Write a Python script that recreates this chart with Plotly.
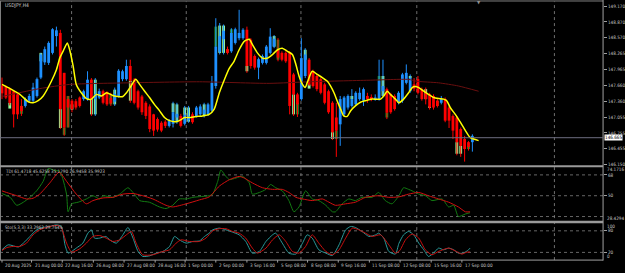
import plotly.graph_objects as go

W, H = 625, 273

symbol_title = "USDJPY,H4"
tdi_title = "TDI 61.4718 45.6258 35.1790 26.9458 35.9923"
sto_title = "Sto(5,3,3) 33.2962 29.7645"

# Heiken-Ashi style bodies (bar index = position in list)
ha_open = [147.66,147.64,147.60,147.55,147.49,147.27,147.27,147.37,147.37,147.46,
           147.81,148.10,148.09,148.28,148.60,148.66,147.90,147.40,147.37,147.36,
           147.43,147.40,147.40,147.77,147.40,147.43,147.55,147.53,147.42,147.35,
           147.46,147.78,147.78,148.03,147.77,147.55,147.45,147.33,147.26,147.11,
           147.02,146.95,146.97,146.89,146.93,147.05,147.08,146.93,147.00,147.11,
           147.08,147.11,147.12,147.11,147.18,147.65,148.30,148.54,148.35,148.31,
           148.47,148.56,148.56,148.72,148.53,148.22,148.00,148.09,148.09,148.28,
           148.40,148.34,148.28,148.28,148.28,147.87,147.49,147.40,147.84,148.15,
           147.93,147.84,147.78,147.68,147.55,147.33,147.05,146.92,147.11,147.24,
           147.27,147.30,147.40,147.37,147.46,147.44,147.40,147.40,147.55,147.59,
           147.49,147.46,147.33,147.37,147.71,147.55,147.68,147.78,147.59,147.52,
           147.49,147.46,147.37,147.33,147.40,147.24,147.08,147.05,146.83,146.64,
           146.58,146.58]
ha_close = [147.51,147.43,147.33,147.11,147.11,147.17,147.40,147.46,147.62,147.78,
            148.25,148.35,148.47,148.73,148.71,147.21,146.86,147.24,147.21,147.24,
            147.27,147.55,147.77,147.40,147.50,147.55,147.33,147.30,147.32,147.50,
            147.94,147.93,148.03,147.75,147.33,147.24,147.15,147.08,146.83,146.80,
            146.82,146.80,146.89,146.99,147.15,147.12,146.89,147.10,147.08,146.96,
            147.24,147.26,147.20,147.30,147.71,148.40,148.60,148.70,148.28,148.66,
            148.73,148.66,148.72,148.03,148.03,148.00,148.16,148.22,148.40,148.59,
            148.55,148.19,148.15,148.12,147.27,147.49,147.30,148.18,148.25,147.68,
            147.65,147.59,147.52,147.33,147.15,146.77,146.80,147.40,147.43,147.46,
            147.40,147.52,147.52,147.59,147.40,147.40,147.43,147.75,147.65,147.14,
            147.15,147.21,147.52,147.87,147.90,147.80,147.60,147.52,147.40,147.40,
            147.24,147.24,147.27,147.40,146.99,146.99,146.80,146.58,146.51,146.45,
            146.49,146.70]
bar_high = [147.81,147.66,147.62,147.57,147.50,147.40,147.43,147.50,147.71,147.81,
            148.28,148.40,148.50,148.75,148.78,148.72,147.90,147.46,147.40,147.40,
            147.45,147.58,147.93,147.80,147.80,147.60,147.58,147.55,147.52,147.62,
            147.97,147.96,148.15,148.15,147.80,147.58,147.48,147.36,147.30,147.12,
            147.05,146.98,147.00,147.02,147.35,147.33,147.12,147.27,147.27,147.15,
            147.27,147.30,147.33,147.33,147.84,148.94,148.85,148.82,148.40,148.75,
            148.76,149.10,148.75,148.78,148.56,148.25,148.19,148.25,148.43,148.75,
            148.62,148.56,148.31,148.31,148.31,147.90,147.52,148.56,148.37,148.18,
            147.96,147.87,147.81,147.71,147.58,147.36,147.33,147.46,147.46,147.49,
            147.59,147.55,147.62,147.62,147.52,147.49,147.49,148.15,148.15,147.62,
            147.52,147.49,147.55,147.90,148.06,147.87,147.80,147.84,147.62,147.62,
            147.52,147.49,147.40,147.46,147.43,147.27,147.11,147.08,146.86,146.70,
            146.60,146.73]
bar_low = [147.40,147.40,147.28,146.86,147.02,147.08,147.24,147.33,147.33,147.43,
           147.78,148.05,148.05,148.25,148.40,146.83,146.70,146.86,147.15,147.20,
           147.24,147.37,147.37,147.08,147.08,147.40,147.30,147.27,147.27,147.27,
           147.43,147.74,147.75,147.33,147.30,147.20,147.10,147.02,146.77,146.70,
           146.78,146.77,146.85,146.86,146.86,146.93,146.86,146.90,146.95,146.93,
           147.05,147.08,147.05,147.08,147.15,147.60,148.25,148.25,148.25,148.28,
           148.44,148.52,148.53,147.90,147.98,147.96,147.78,148.06,148.06,148.25,
           148.37,148.12,148.12,148.09,147.11,147.08,147.06,147.37,147.80,147.65,
           147.62,147.55,147.49,147.30,147.12,146.62,146.30,146.51,147.08,147.20,
           147.24,147.27,147.37,147.27,147.33,147.36,147.37,147.37,147.43,147.02,
           147.12,147.18,147.30,147.33,147.68,147.52,147.55,147.49,147.37,147.30,
           147.20,147.20,147.24,147.30,146.96,146.85,146.64,146.33,146.30,146.21,
           146.42,146.40]

# underlying candle bodies visible around the HA bodies: (bar, low, high, tone)
green_bodies = [(2,147.22,147.33,"L"),(5,147.12,147.27,"D"),(10,148.12,148.28,"L"),
                (15,146.85,147.21,"L"),(16,146.72,146.86,"D"),(17,146.86,147.46,"D"),
                (18,147.20,147.30,"L"),(23,147.11,147.40,"L"),(24,147.11,147.77,"L"),
                (28,147.30,147.49,"D"),(29,147.30,147.58,"L"),(33,147.37,147.75,"L"),
                (44,147.15,147.32,"L"),(45,146.96,147.30,"L"),(47,147.10,147.24,"L"),
                (48,146.97,147.24,"L"),(52,147.08,147.30,"L"),(55,148.40,148.78,"D"),
                (56,148.28,148.80,"L"),(57,148.28,148.80,"L"),(58,148.28,148.35,"D"),
                (59,148.66,148.73,"D"),(63,147.93,148.03,"L"),(70,148.40,148.60,"L"),
                (71,148.15,148.53,"D"),(75,147.11,147.49,"L"),(76,147.11,147.33,"D"),
                (78,148.15,148.34,"L"),(79,147.60,147.68,"L"),(85,146.64,146.77,"L"),
                (86,146.64,146.80,"D"),(90,147.40,147.46,"L"),(97,147.75,147.84,"D"),
                (98,147.46,147.84,"L"),(99,147.05,147.14,"D"),(105,147.80,147.84,"L"),
                (109,147.40,147.59,"L"),(110,147.24,147.27,"L"),(112,147.27,147.37,"D"),
                (117,146.36,146.58,"L"),(118,146.36,146.51,"L"),(120,146.45,146.51,"D")]

# yellow fast average (bar position, price)
yellow_ma = [(0,147.68),(2.05,147.60),(4.6,147.49),(6.75,147.35),(8.0,147.33),(9.3,147.37),
             (10.6,147.46),(12.7,147.74),(14.0,147.96),(14.9,148.19),(15.7,148.31),(16.8,148.47),
             (17.4,148.34),(18.3,148.03),(19.1,147.68),(20.4,147.52),(21.7,147.41),(23.0,147.40),
             (24.3,147.49),(25.6,147.46),(26.9,147.52),(28.5,147.47),(29.8,147.45),(31.1,147.45),
             (31.9,147.51),(33.2,147.65),(34.4,147.78),(35.4,147.68),(36.7,147.55),(37.95,147.43),
             (39.2,147.30),(40.5,147.18),(41.8,147.05),(43.1,146.99),(44.8,146.97),(46.1,147.01),
             (46.9,147.05),(48.2,147.05),(49.9,147.07),(51.6,147.08),(53.3,147.11),(54.6,147.21),
             (55.9,147.52),(57.2,147.77),(58.5,147.99),(59.7,148.12),(61.0,148.34),(62.3,148.50),
             (63.6,148.54),(64.4,148.44),(65.7,148.28),(67.0,148.18),(68.3,148.18),(69.6,148.25),
             (70.9,148.34),(72.1,148.37),(73.4,148.31),(74.7,148.25),(75.6,148.06),(76.4,147.84),
             (77.3,147.68),(78.0,147.62),(78.5,147.71),(79.8,147.93),(81.1,147.87),(82.4,147.81),
             (83.7,147.74),(84.5,147.65),(85.4,147.52),(86.2,147.37),(87.1,147.21),(87.9,147.08),
             (88.8,147.07),(89.7,147.18),(90.9,147.27),(92.2,147.34),(93.5,147.37),(95.2,147.40),
             (97.4,147.40),(98.2,147.46),(99.1,147.55),(99.9,147.49),(101.2,147.40),(102.1,147.33),
             (103.3,147.40),(104.6,147.52),(105.5,147.62),(106.3,147.64),(107.2,147.62),(108.5,147.55),
             (109.7,147.49),(111.0,147.43),(112.3,147.41),(113.6,147.40),(114.4,147.37),(115.3,147.24),
             (116.6,147.11),(117.9,146.96),(119.2,146.80),(120.4,146.67),(122.6,146.61)]

# dark red slow average
slow_ma = [(0,147.45),(9.7,147.60),(17.4,147.68),(32.8,147.71),(50.8,147.73),(68.7,147.70),
           (79.0,147.73),(94.4,147.76),(104.6,147.775),(106.7,147.74),(112.3,147.71),
           (117.4,147.65),(122.6,147.55)]

tdi_green = [(0,51.9),(2.1,48.6),(3.8,41.7),(5.5,44.4),(7.2,48.6),(8.9,54.2),(10.6,62.5),
             (11.9,73.6),(13.2,72.2),(14.9,70.8),(16.6,51.4),(17.0,36.1),(17.9,43.0),(19.6,44.4),
             (21.7,47.2),(23.4,50.0),(25.1,47.2),(26.0,50.0),(28.5,48.6),(30.3,51.4),(32.4,56.9),
             (33.7,52.8),(35.4,45.8),(37.9,44.4),(40.5,40.3),(42.2,38.9),(43.9,41.7),(45.6,47.2),
             (47.4,47.2),(49.1,48.6),(50.8,49.2),(53.3,50.0),(54.2,51.4),(55.5,62.5),(56.3,72.2),
             (57.6,66.7),(58.5,63.9),(60.2,65.3),(61.9,66.7),(63.6,61.1),(64.4,51.4),(66.2,52.8),
             (67.9,55.5),(69.1,59.7),(70.4,56.9),(72.1,54.2),(73.8,45.8),(75.1,36.1),(76.4,40.3),
             (78.1,54.2),(79.8,47.2),(81.5,45.8),(83.3,41.7),(85.0,36.1),(85.8,36.1),(87.5,43.0),
             (89.2,47.2),(90.9,45.8),(92.6,48.6),(95.2,48.6),(96.9,52.8),(98.6,45.8),(100.3,43.0),
             (102.1,50.0),(103.3,56.9),(104.6,55.5),(105.5,54.2),(107.2,51.4),(108.9,50.0),
             (110.6,45.8),(113.2,47.2),(114.9,40.3),(116.2,41.7),(117.4,32.0),(119.2,34.2),(120.4,35.3)]
tdi_red = [(0,54.2),(1.2,52.8),(3.8,50.0),(6.3,47.2),(8.0,47.8),(9.7,51.4),(12.3,61.1),(14.7,70.3),
           (16.6,62.5),(19.1,51.4),(21.7,43.0),(23.4,45.8),(26.0,48.1),(28.5,48.6),(31.1,51.4),
           (33.7,51.9),(36.2,50.0),(38.8,47.2),(42.2,41.7),(43.9,40.3),(47.4,43.0),(50.8,46.4),
           (53.3,49.0),(55.9,58.3),(58.5,63.9),(61.0,66.7),(62.3,65.3),(64.4,61.1),(67.0,56.9),
           (69.6,55.5),(72.1,55.5),(73.8,52.8),(75.6,48.6),(77.3,47.2),(79.8,45.8),(82.4,47.2),
           (84.1,44.4),(85.8,41.7),(88.4,43.0),(90.9,44.4),(93.5,48.6),(96.9,50.0),(99.5,48.6),
           (102.1,49.0),(104.6,51.4),(107.2,52.8),(109.7,50.0),(112.3,47.2),(114.9,44.4),
           (117.4,40.3),(119.2,36.1),(120.4,36.1)]

sto_main = [(0,27.2),(1.6,41.1),(4.2,35.1),(5.5,45.8),(7.2,64.4),(8.9,82.8),(10.6,89.4),(12.3,92.2),
            (14.0,96.7),(15.3,92.2),(16.2,41.1),(17.0,18.0),(17.9,22.7),(19.1,31.9),(20.8,45.8),
            (22.1,73.6),(23.0,82.8),(23.8,59.7),(25.1,59.7),(26.7,64.4),(27.7,55.0),(29.4,45.8),
            (31.1,68.9),(32.4,89.4),(33.7,59.7),(35.0,22.7),(36.2,8.8),(38.0,10.6),(39.7,18.0),
            (41.4,22.7),(43.1,36.6),(44.4,64.4),(45.6,55.0),(47.4,45.8),(49.1,50.5),(50.8,52.0),
            (52.1,64.4),(53.3,73.6),(54.2,82.8),(55.9,87.5),(57.6,82.8),(59.3,76.4),(61.0,68.9),
            (62.7,50.5),(64.4,18.0),(66.2,22.7),(67.9,50.5),(69.6,68.9),(70.4,73.6),(72.1,45.8),
            (73.8,18.0),(75.6,15.3),(77.3,45.8),(78.5,68.9),(79.8,59.7),(81.5,27.2),(83.3,18.0),
            (85.0,11.5),(86.7,41.1),(88.4,82.8),(89.7,92.2),(90.9,89.4),(92.6,78.3),(94.4,64.4),
            (96.1,68.9),(96.9,73.6),(98.2,59.7),(99.5,22.7),(101.2,15.3),(102.1,45.0),(103.3,68.9),
            (104.6,78.3),(105.9,68.9),(107.2,45.8),(108.5,27.2),(109.7,8.8),(111.0,18.0),
            (112.3,31.9),(113.6,27.2),(114.9,31.9),(116.2,27.2),(117.4,18.0),(118.7,18.0),
            (120.0,27.2),(120.4,31.9)]
sto_signal = [(0,25.3),(1.2,33.3),(2.9,36.6),(4.6,36.6),(6.3,45.8),(8.0,68.9),(9.7,82.8),(12.3,92.2),
              (14.4,95.0),(15.3,87.5),(16.6,45.8),(17.9,20.9),(20.0,30.0),(21.7,45.8),(23.4,64.4),
              (25.1,67.0),(26.8,59.7),(28.5,50.5),(30.3,55.0),(32.0,68.9),(33.3,78.3),(34.5,45.8),
              (36.2,13.4),(38.8,13.4),(41.4,22.7),(43.1,27.2),(44.8,45.8),(46.1,55.0),(48.2,50.5),
              (50.8,50.5),(52.5,60.0),(54.2,80.0),(55.9,86.0),(57.6,86.0),(59.3,78.3),(61.0,73.6),
              (62.7,59.7),(64.4,31.9),(65.7,18.0),(67.9,31.9),(69.6,55.0),(71.3,68.9),(73.0,50.5),
              (74.7,22.7),(76.4,18.0),(78.1,36.6),(79.8,68.9),(81.5,45.8),(83.3,22.7),(85.0,13.4),
              (86.7,27.2),(88.4,59.7),(90.1,87.5),(91.8,82.8),(93.5,73.6),(95.2,64.4),(97.4,68.9),
              (99.5,41.1),(101.2,18.0),(102.3,25.0),(103.8,55.0),(105.5,71.0),(107.2,59.7),
              (108.9,27.2),(110.6,13.4),(112.3,22.7),(114.9,31.9),(116.6,24.0),(118.3,15.3),
              (119.6,20.9),(120.4,20.9)]

price_ticks = [149.170, 148.870, 148.570, 148.265, 147.965, 147.660, 147.360, 147.055, 146.755, 146.455, 146.150]
last_price = 146.665
tdi_min, tdi_max = 28.4294, 74.1716
tdi_levels = [68, 50, 32]
sto_levels = [80, 20]

time_labels = ["20 Aug 2025", "21 Aug 00:00", "22 Aug 16:00", "26 Aug 08:00", "27 Aug 08:00",
               "28 Aug 16:00", "1 Sep 00:00", "2 Sep 00:00", "3 Sep 16:00", "5 Sep 08:00",
               "8 Sep 08:00", "9 Sep 16:00", "11 Sep 08:00", "12 Sep 08:00", "15 Sep 16:00", "17 Sep 00:00"]
time_label_bars = [0, 7.6, 15.5, 23.5, 31.4, 39.4, 47.1, 55.0, 63.0, 70.9, 78.6, 86.5, 94.5, 102.4, 110.4, 118.3]
week_separator_bars = [17.9, 47.4, 76.9, 106.7, 142.1]

# ---------------- layout helpers (pixels -> paper) ----------------
def py(p):
    return 1 - p / H

def pxx(p):
    return p / W

BAR_PX = 3.9
X0_PX = 2.0
PLOT_RIGHT = 605
xrange = [-X0_PX / BAR_PX, (PLOT_RIGHT - X0_PX) / BAR_PX]

FONT = "Liberation Sans Narrow, DejaVu Sans Condensed, Liberation Sans, sans-serif"
TXT = "#c8c8c8"
BLUE = "#1e90ff"
RED = "#ff0000"
LGREEN = "#98fb98"
DGREEN = "#228b22"
FS = 4.6

n = len(ha_open)
idx = list(range(n))

fig = go.Figure()

# underlying candle bodies (green)
for tone, col in (("L", LGREEN), ("D", DGREEN)):
    sel = [g for g in green_bodies if g[3] == tone]
    fig.add_trace(go.Bar(x=[g[0] for g in sel], y=[g[2] - g[1] for g in sel],
                         base=[g[1] for g in sel], width=0.72, marker=dict(color=col, line=dict(width=0)),
                         hoverinfo="skip", showlegend=False, xaxis="x", yaxis="y"))

# wicks
for bull, col in ((True, BLUE), (False, RED)):
    xs, ys = [], []
    for i in idx:
        if (ha_close[i] >= ha_open[i]) == bull:
            xs += [i, i, None]
            ys += [bar_low[i], bar_high[i], None]
    fig.add_trace(go.Scatter(x=xs, y=ys, mode="lines", line=dict(color=col, width=1),
                             hoverinfo="skip", showlegend=False, xaxis="x", yaxis="y"))

# HA bodies
body_base = [min(o, c) for o, c in zip(ha_open, ha_close)]
body_h = [max(abs(c - o), 0.02) for o, c in zip(ha_open, ha_close)]
body_col = [BLUE if c >= o else RED for o, c in zip(ha_open, ha_close)]
fig.add_trace(go.Bar(x=idx, y=body_h, base=body_base, width=0.72,
                     marker=dict(color=body_col, line=dict(width=0)),
                     hoverinfo="skip", showlegend=False, xaxis="x", yaxis="y"))

def line(points, color, width, yax):
    fig.add_trace(go.Scatter(x=[p[0] for p in points], y=[p[1] for p in points], mode="lines",
                             line=dict(color=color, width=width, shape="spline", smoothing=0.6),
                             hoverinfo="skip", showlegend=False, xaxis="x", yaxis=yax))

line(slow_ma, "#6a0f0f", 1, "y")
line(yellow_ma, "#ffff00", 1.5, "y")
line(tdi_green, "#127a12", 1, "y2")
line(tdi_red, "#d01010", 1, "y2")
line(sto_main, "#2a9a9a", 1, "y3")
line(sto_signal, "#c81010", 1, "y3")

# ---------------- axes ----------------
MAIN = (2, 166.3)
TDI = (169.0, 222.3)
STO = (225.3, 261.5)

main_lo = 149.287 - 0.0189 * MAIN[1]
main_hi = 149.287 - 0.0189 * MAIN[0]

axis_common = dict(side="right", anchor="x", showgrid=False, zeroline=False, ticks="outside",
                   ticklen=3, tickcolor="#a0a0a0", tickfont=dict(family=FONT, size=FS, color=TXT),
                   showline=False, fixedrange=True)

fig.update_layout(
    width=W, height=H, margin=dict(l=0, r=0, t=0, b=0),
    paper_bgcolor="#000000", plot_bgcolor="#000000", barmode="overlay",
    xaxis=dict(domain=[0, pxx(PLOT_RIGHT)], range=xrange, showgrid=False, zeroline=False,
               showticklabels=False, ticks="", fixedrange=True),
    yaxis=dict(domain=[py(MAIN[1]), py(MAIN[0])], range=[main_lo, main_hi],
               tickvals=price_ticks, ticktext=[f"{v:.3f}" for v in price_ticks], **axis_common),
    yaxis2=dict(domain=[py(TDI[1]), py(TDI[0])], range=[tdi_min, tdi_max],
                tickvals=[68, 50], ticktext=["68", "50"], **axis_common),
    yaxis3=dict(domain=[py(STO[1]), py(STO[0])], range=[0, 100],
                tickvals=[80, 20], ticktext=["80", "20"], **axis_common),
)

shapes = []
GRAY = "#a0a0a0"
# frame
shapes.append(dict(type="line", xref="paper", yref="paper", x0=0, x1=pxx(PLOT_RIGHT), y0=py(1), y1=py(1),
                   line=dict(color="#808080", width=1)))
shapes.append(dict(type="line", xref="paper", yref="paper", x0=pxx(0.5), x1=pxx(0.5), y0=py(262), y1=py(1),
                   line=dict(color="#808080", width=1)))
shapes.append(dict(type="line", xref="paper", yref="paper", x0=pxx(PLOT_RIGHT), x1=pxx(PLOT_RIGHT),
                   y0=py(262.5), y1=py(0), line=dict(color=GRAY, width=1)))
shapes.append(dict(type="line", xref="paper", yref="paper", x0=0, x1=pxx(PLOT_RIGHT), y0=py(262), y1=py(262),
                   line=dict(color=GRAY, width=1)))
for a, b in ((166.4, 168.6), (222.5, 224.9)):
    shapes.append(dict(type="rect", xref="paper", yref="paper", x0=0, x1=pxx(PLOT_RIGHT),
                       y0=py(b), y1=py(a), fillcolor="#9a9a9a", line=dict(width=0)))
# week separators
for b in week_separator_bars:
    shapes.append(dict(type="line", xref="x", yref="paper", x0=b, x1=b, y0=py(262), y1=py(1.5),
                       line=dict(color="#8c8c8c", width=0.8, dash="dot"), layer="below"))
# levels
for lv in tdi_levels:
    shapes.append(dict(type="line", xref="paper", yref="y2", x0=0, x1=pxx(PLOT_RIGHT), y0=lv, y1=lv,
                       line=dict(color="#808080", width=0.8, dash="dot"), layer="below"))
for lv in sto_levels:
    shapes.append(dict(type="line", xref="paper", yref="y3", x0=0, x1=pxx(PLOT_RIGHT), y0=lv, y1=lv,
                       line=dict(color="#808080", width=0.8, dash="dot"), layer="below"))
# current price line
shapes.append(dict(type="line", xref="paper", yref="y", x0=0, x1=pxx(PLOT_RIGHT), y0=last_price, y1=last_price,
                   line=dict(color="#6e6e80", width=1)))
# time ticks
for b in time_label_bars:
    shapes.append(dict(type="line", xref="x", yref="paper", x0=b, x1=b, y0=py(264.5), y1=py(262),
                       line=dict(color=GRAY, width=1)))
fig.update_layout(shapes=shapes)

ann = []
def text(t, x, y, xanchor="left", size=FS, color=TXT, **kw):
    ann.append(dict(text=t, x=x, y=y, xanchor=xanchor, yanchor="middle", showarrow=False,
                    font=dict(family=FONT, size=size, color=color), **kw))

text(symbol_title, pxx(3), py(5.5), xref="paper", yref="paper", size=5)
text(tdi_title, pxx(3), py(172.5), xref="paper", yref="paper")
text(sto_title, pxx(3), py(229), xref="paper", yref="paper")
text(f"{last_price:.3f}", pxx(606), last_price, xref="paper", yref="y", color="#000000",
     bgcolor="#ffffff", borderpad=0)
text(f"{tdi_max:.4f}", pxx(607), py(170.8), xref="paper", yref="paper")
text(f"{tdi_min:.4f}", pxx(607), py(220), xref="paper", yref="paper")
text("100", pxx(607), py(228), xref="paper", yref="paper")
text("0", pxx(607), py(258.5), xref="paper", yref="paper")
text("▼", pxx(481), py(2.5), xanchor="center", xref="paper", yref="paper", color="#909090")
for t, b in zip(time_labels, time_label_bars):
    text(t, b, py(267), xref="x", yref="paper", xshift=1)
fig.update_layout(annotations=ann)

fig.write_html("out.html")
